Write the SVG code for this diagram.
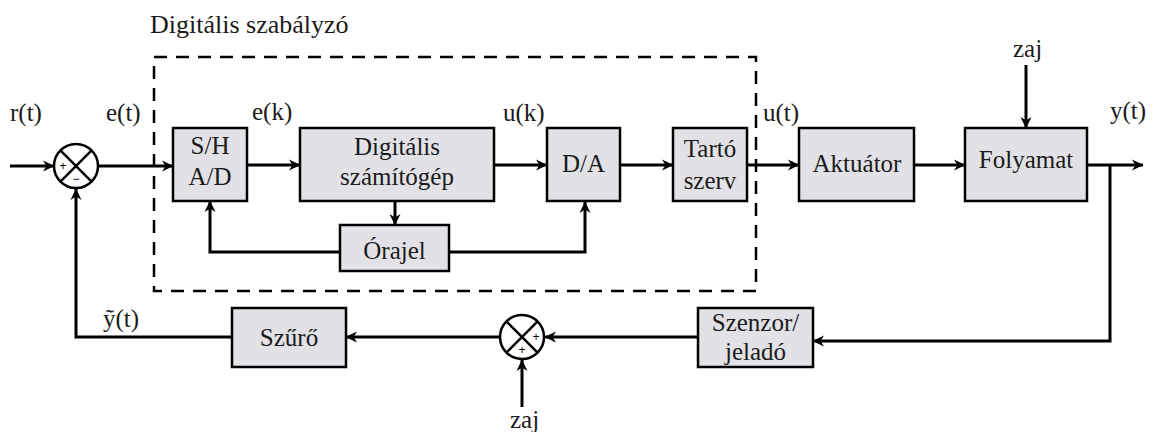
<svg xmlns="http://www.w3.org/2000/svg" width="1155" height="432" viewBox="0 0 1155 432">
  <defs>
    <marker id="arrow" viewBox="0 0 12 12" refX="11" refY="6" markerWidth="12" markerHeight="12" markerUnits="userSpaceOnUse" orient="auto">
      <path d="M0,0.5 L11.5,6 L0,11.5 L3.5,6 Z" fill="#000"/>
    </marker>
    <style>
      .t { font-family: "Liberation Serif", Tinos, "Times New Roman", Times, "Noto Serif", "DejaVu Serif", serif; font-size: 25px; fill: #1a1a1a; }
      .box { fill: #e2e2e6; stroke: #000; stroke-width: 2.5; }
      .c { text-anchor: middle; }
      .wire { fill: none; stroke: #000; stroke-width: 3; stroke-linejoin: miter; }
      .arr { marker-end: url(#arrow); }
      .sum { fill: #fff; stroke: #000; stroke-width: 2.5; }
      .sign { font-family: "Liberation Sans", Arimo, Arial, sans-serif; font-size: 12px; text-anchor: middle; }
      .frame { fill: none; stroke: #000; stroke-width: 2.5; stroke-dasharray: 13 9; }
    </style>
  </defs>
  <rect width="1155" height="432" fill="#fff"/>

  <!-- digital controller boundary -->
  <g id="controller-frame">
    <rect class="frame" x="154" y="57" width="602" height="234"/>
    <text class="t" x="150" y="33" font-family="Liberation Serif, serif" style="font-size:26px">Digitális szabályzó</text>
  </g>

  <!-- connectors -->
  <g id="connectors">
    <path class="wire arr" d="M10,166 H54"/>
    <path class="wire arr" d="M98,166 H173"/>
    <path class="wire arr" d="M247,165 H300"/>
    <path class="wire arr" d="M494,165 H547"/>
    <path class="wire arr" d="M620,165 H673"/>
    <path class="wire arr" d="M747,165 H799"/>
    <path class="wire arr" d="M914,165 H965"/>
    <path class="wire arr" d="M1087,165 H1143"/>
    <path class="wire arr" d="M1026,65 V128"/>
    <path class="wire arr" d="M395,201 V225"/>
    <path class="wire arr" d="M340,252 H210 V201"/>
    <path class="wire arr" d="M449,252 H585 V202"/>
    <path class="wire arr" d="M1110,165 V341 H813"/>
    <path class="wire arr" d="M698,337 H545"/>
    <path class="wire arr" d="M522,407 V360"/>
    <path class="wire arr" d="M499,337 H346"/>
    <path class="wire arr" d="M232,337 H76 V189"/>
  </g>

  <!-- signal labels -->
  <g id="labels" class="t">
    <text class="t" x="10" y="121">r(t)</text>
    <text class="t" x="106" y="121">e(t)</text>
    <text class="t" x="252" y="120">e(k)</text>
    <text class="t" x="503" y="121">u(k)</text>
    <text class="t" x="763" y="121">u(t)</text>
    <text class="t" x="1110" y="119">y(t)</text>
    <text class="t" x="1013" y="57">zaj</text>
    <text class="t" x="103" y="327">ỹ(t)</text>
    <text class="t" x="510" y="428">zaj</text>
  </g>

  <g id="sum1">
    <circle class="sum" cx="76" cy="166" r="22"/>
    <path class="wire" style="stroke-width:2.5" d="M60.4,150.4 L91.6,181.6 M91.6,150.4 L60.4,181.6"/>
    <text class="sign" x="63" y="170">+</text>
    <text class="sign" x="76" y="183">−</text>
  </g>

  <g id="sample-hold">
    <rect class="box" x="173" y="128" width="74" height="73"/>
    <text class="t c" x="210" y="154">S/H</text>
    <text class="t c" x="210" y="185">A/D</text>
  </g>

  <g id="computer">
    <rect class="box" x="300" y="128" width="194" height="73"/>
    <text class="t c" x="397" y="155">Digitális</text>
    <text class="t c" x="397" y="185">számítógép</text>
  </g>

  <g id="clock">
    <rect class="box" x="340" y="225" width="109" height="46"/>
    <text class="t c" x="394.5" y="259">Órajel</text>
  </g>

  <g id="dac">
    <rect class="box" x="547" y="128" width="73" height="73"/>
    <text class="t c" x="583.5" y="172">D/A</text>
  </g>

  <g id="hold">
    <rect class="box" x="673" y="128" width="74" height="73"/>
    <text class="t c" x="710" y="157">Tartó</text>
    <text class="t c" x="710" y="189">szerv</text>
  </g>

  <g id="actuator">
    <rect class="box" x="799" y="128" width="115" height="73"/>
    <text class="t c" x="857" y="172">Aktuátor</text>
  </g>

  <g id="process">
    <rect class="box" x="965" y="128" width="122" height="73"/>
    <text class="t c" x="1026" y="168">Folyamat</text>
  </g>

  <g id="sensor">
    <rect class="box" x="698" y="308" width="115" height="59"/>
    <text class="t c" x="755.5" y="331">Szenzor/</text>
    <text class="t c" x="755.5" y="360">jeladó</text>
  </g>

  <g id="sum2">
    <circle class="sum" cx="522" cy="337" r="22"/>
    <path class="wire" style="stroke-width:2.5" d="M506.4,321.4 L537.6,352.6 M537.6,321.4 L506.4,352.6"/>
    <text class="sign" x="536" y="341">+</text>
    <text class="sign" x="522" y="354">+</text>
  </g>

  <g id="filter">
    <rect class="box" x="232" y="308" width="114" height="59"/>
    <text class="t c" x="289" y="346">Szűrő</text>
  </g>
</svg>
